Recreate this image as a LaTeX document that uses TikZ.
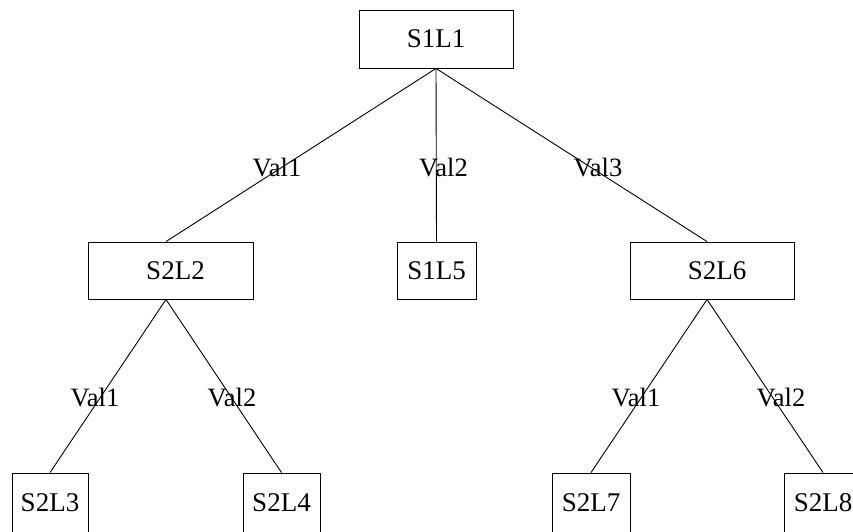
\documentclass[tikz,border=0pt]{standalone}
\usepackage{fontspec}
\setmainfont{Liberation Serif}
\begin{document}
\begin{tikzpicture}[x=1pt,y=-1pt,
  box/.style={draw, line width=0.9pt, inner sep=0pt, minimum height=57pt,
    font=\fontsize{27}{31}\selectfont},
  edgelabel/.style={inner sep=0pt, font=\fontsize{26.5}{31}\selectfont},
  link/.style={line width=0.9pt}]
  \useasboundingbox (0,0) rectangle (853,531);

  % boxes of the tree
  \node[box, minimum width=154pt, minimum height=58pt] (s1l1) at (436,39) {S1L1};
  \node[box, minimum width=165pt] (s2l2) at (170.5,270.5) {\hspace*{10pt}S2L2};
  \node[box, minimum width=79pt]  (s1l5) at (436.5,270.5) {S1L5};
  \node[box, minimum width=164pt] (s2l6) at (712,270.5) {\hspace*{10pt}S2L6};
  \node[box, minimum width=76pt, minimum height=59pt] (s2l3) at (50,502.5) {S2L3};
  \node[box, minimum width=77pt, minimum height=59pt] (s2l4) at (281.5,502.5) {S2L4};
  \node[box, minimum width=78pt, minimum height=59pt] (s2l7) at (591,502.5) {S2L7};
  \node[box, minimum width=78pt, minimum height=59pt] (s2l8) at (823,502.5) {S2L8};

  % branches
  \draw[link] (s1l1.south) -- ([xshift=-4.5pt]s2l2.north);
  \draw[link] (s1l1.south) -- (s1l5.north);
  \draw[link] (s1l1.south) -- ([xshift=-5pt]s2l6.north);
  \draw[link] ([xshift=-4.5pt]s2l2.south) -- (s2l3.north);
  \draw[link] ([xshift=-4.5pt]s2l2.south) -- (s2l4.north);
  \draw[link] ([xshift=-5pt]s2l6.south) -- (s2l7.north);
  \draw[link] ([xshift=-5pt]s2l6.south) -- (s2l8.north);

  % branch values
  \node[edgelabel] (v11) at (277,167) {Val1};
  \node[edgelabel] (v12) at (443.5,167) {Val2};
  \node[edgelabel] (v13) at (598,167) {Val3};
  \node[edgelabel] (v21) at (95,397) {Val1};
  \node[edgelabel] (v22) at (232,397) {Val2};
  \node[edgelabel] (v61) at (636,397) {Val1};
  \node[edgelabel] (v62) at (781,397) {Val2};
\end{tikzpicture}
\end{document}
